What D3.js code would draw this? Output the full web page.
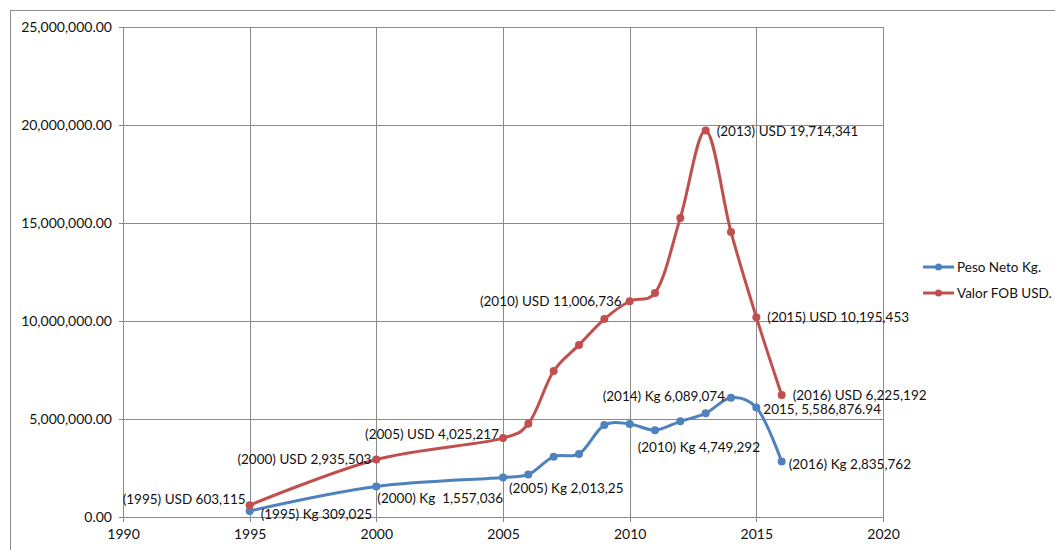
<!DOCTYPE html>
<html>
<head>
<meta charset="utf-8">
<script src="https://cdn.jsdelivr.net/npm/d3@7"></script>
<style>
  body { margin: 0; background: #fff; }
  svg text { font-family: Lato, "Open Sans", sans-serif; fill: #111; }
</style>
</head>
<body>
<script>
// data
const years = [1995, 2000, 2005, 2006, 2007, 2008, 2009, 2010, 2011, 2012, 2013, 2014, 2015, 2016];
const pesoNeto = [309025, 1557036, 2013250, 2170000, 3080000, 3220000, 4690000, 4749292, 4430000, 4880000, 5290000, 6089074, 5586876.94, 2835762];
const valorFob = [603115, 2935503, 4025217, 4760000, 7450000, 8780000, 10100000, 11006736, 11430000, 15260000, 19714341, 14540000, 10195453, 6225192];
const seriesNames = ['Peso Neto Kg.', 'Valor FOB USD.'];
const xTicks = [1990, 1995, 2000, 2005, 2010, 2015, 2020];
const yTicks = [0, 5000000, 10000000, 15000000, 20000000, 25000000];

// data labels (year -> text)
const pesoLabels = [
  [1995, '(1995) Kg 309,025'],
  [2000, '(2000) Kg  1,557,036'],
  [2005, '(2005) Kg 2,013,25'],
  [2010, '(2010) Kg 4,749,292'],
  [2014, '(2014) Kg 6,089,074'],
  [2015, '2015, 5,586,876.94'],
  [2016, '(2016) Kg 2,835,762']
];
const fobLabels = [
  [1995, '(1995) USD 603,115'],
  [2000, '(2000) USD 2,935,503'],
  [2005, '(2005) USD 4,025,217'],
  [2010, '(2010) USD 11,006,736'],
  [2013, '(2013) USD 19,714,341'],
  [2015, '(2015) USD 10,195,453'],
  [2016, '(2016) USD 6,225,192']
];

// where each label sits relative to its point
const pesoPlace = {
  1995: { anchor: 'start', dx: 11, dy: 3 },
  2000: { anchor: 'start', dx: 1, dy: 12 },
  2005: { anchor: 'start', dx: 6, dy: 10 },
  2010: { anchor: 'start', dx: 8, dy: 23 },
  2014: { anchor: 'end', dx: -6, dy: -2 },
  2015: { anchor: 'start', dx: 7, dy: 2 },
  2016: { anchor: 'start', dx: 7, dy: 3 }
};
const fobPlace = {
  1995: { anchor: 'end', dx: -4, dy: -6 },
  2000: { anchor: 'end', dx: -5, dy: 0 },
  2005: { anchor: 'end', dx: -4, dy: -4 },
  2010: { anchor: 'end', dx: -8, dy: 0 },
  2013: { anchor: 'start', dx: 11, dy: 0 },
  2015: { anchor: 'start', dx: 11, dy: 0 },
  2016: { anchor: 'start', dx: 11, dy: 0 }
};

const width = 1055;
const height = 550;
const blue = '#4F81BD';
const red = '#C0504D';

const svg = d3.select('body').append('svg')
  .attr('width', width)
  .attr('height', height);

// outer chart border
svg.append('rect')
  .attr('x', 10.5).attr('y', 10.5)
  .attr('width', 1060).attr('height', 560)
  .attr('fill', 'none')
  .attr('stroke', '#8c8c8c');

const x = d3.scaleLinear().domain([1990, 2020]).range([123, 883]);
const y = d3.scaleLinear().domain([0, 25000000]).range([517, 27]);

// gridlines
svg.append('g')
  .selectAll('line')
  .data(yTicks)
  .join('line')
  .attr('x1', x(1990) - 4).attr('x2', x(2020))
  .attr('y1', (d) => Math.round(y(d)) + 0.5)
  .attr('y2', (d) => Math.round(y(d)) + 0.5)
  .attr('stroke', '#8a8a8a');

svg.append('g')
  .selectAll('line')
  .data(xTicks)
  .join('line')
  .attr('x1', (d) => Math.round(x(d)) + 0.5)
  .attr('x2', (d) => Math.round(x(d)) + 0.5)
  .attr('y1', y(25000000)).attr('y2', y(0) + 5)
  .attr('stroke', '#8a8a8a');

// y axis labels
const yAxis = svg.append('g')
  .attr('transform', 'translate(' + (x(1990) - 4) + ',0)')
  .call(d3.axisLeft(y).tickValues(yTicks).tickFormat(d3.format(',.2f')).tickSize(0).tickPadding(7));
yAxis.select('.domain').remove();
yAxis.selectAll('text').style('font-size', '14px').style('font-family', 'Lato, sans-serif').attr('fill', '#111');

// x axis labels
const xAxis = svg.append('g')
  .attr('transform', 'translate(0,' + (y(0) + 5) + ')')
  .call(d3.axisBottom(x).tickValues(xTicks).tickFormat(d3.format('d')).tickSize(0).tickPadding(7));
xAxis.select('.domain').remove();
xAxis.selectAll('text').style('font-size', '14px').style('font-family', 'Lato, sans-serif').attr('fill', '#111');

// excel-style smoothed line
const line = d3.line()
  .x((d) => x(d[0]))
  .y((d) => y(d[1]))
  .curve(d3.curveCatmullRom.alpha(0.25));

const series = [
  { name: seriesNames[0], values: years.map((yr, i) => [yr, pesoNeto[i]]), color: blue, labels: pesoLabels, place: pesoPlace },
  { name: seriesNames[1], values: years.map((yr, i) => [yr, valorFob[i]]), color: red, labels: fobLabels, place: fobPlace }
];

series.forEach((s) => {
  svg.append('path')
    .datum(s.values)
    .attr('d', line)
    .attr('fill', 'none')
    .attr('stroke', s.color)
    .attr('stroke-width', 3)
    .attr('stroke-linejoin', 'round');

  svg.append('g')
    .selectAll('circle')
    .data(s.values)
    .join('circle')
    .attr('cx', (d) => x(d[0]))
    .attr('cy', (d) => y(d[1]))
    .attr('r', 4)
    .attr('fill', s.color);

  const lookup = new Map(s.values);
  svg.append('g')
    .selectAll('text')
    .data(s.labels)
    .join('text')
    .attr('x', (d) => x(d[0]) + s.place[d[0]].dx)
    .attr('y', (d) => y(lookup.get(d[0])) + s.place[d[0]].dy)
    .attr('text-anchor', (d) => s.place[d[0]].anchor)
    .attr('dominant-baseline', 'central')
    .style('font-size', '13.5px')
    .style('white-space', 'pre')
    .text((d) => d[1]);
});

// legend
const legend = svg.append('g')
  .selectAll('g')
  .data(series)
  .join('g')
  .attr('transform', (d, i) => 'translate(923,' + (267 + i * 26) + ')');

legend.append('line')
  .attr('x1', 0).attr('x2', 31)
  .attr('stroke', (d) => d.color)
  .attr('stroke-width', 3);

legend.append('circle')
  .attr('cx', 15.5).attr('r', 3.5)
  .attr('fill', (d) => d.color);

legend.append('text')
  .attr('x', 34)
  .attr('dominant-baseline', 'central')
  .style('font-size', '13.5px')
  .text((d) => d.name);
</script>
</body>
</html>
